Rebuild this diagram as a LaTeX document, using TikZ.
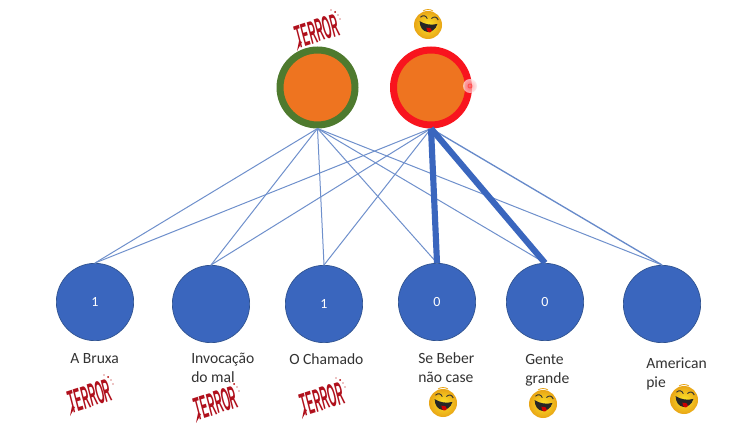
\documentclass[tikz,border=0pt]{standalone}
\usepackage{fontspec}
\setmainfont{Carlito}
\newfontfamily\terrorfont{Liberation Sans}
\definecolor{disc}{HTML}{3A66BE}
\definecolor{discedge}{HTML}{2F528F}
\definecolor{thinline}{HTML}{6F90CC}
\definecolor{topfill}{HTML}{EE7420}
\definecolor{topgreen}{HTML}{4E7A2E}
\definecolor{topred}{HTML}{F8141E}
\definecolor{blood}{HTML}{B0101C}
\definecolor{smiley}{HTML}{FBD93A}
\definecolor{smileyedge}{HTML}{E9A516}
\tikzset{
  x=0.75pt,y=-0.75pt,
  topcircle/.style={circle,fill=topfill,line width=5.25pt,outer sep=2.625pt,minimum size=56.25pt,inner sep=0pt},
  bottomcircle/.style={circle,fill=disc,draw=discedge,line width=0.5pt,minimum size=58pt,inner sep=0pt,text=white,font=\fontsize{10.5}{12}\selectfont},
  thinlink/.style={thinline,line width=0.75pt},
  midlink/.style={thinline!85!disc,line width=1pt},
  thicklink/.style={disc,line width=4.6pt},
  caption/.style={anchor=north west,align=left,inner sep=0pt,text=black!80,font=\fontsize{11.7}{14.4}\selectfont},
  terrorlogo/.style={rotate=18,inner sep=0pt,text=blood,font=\terrorfont\bfseries\itshape\fontsize{11}{11}\selectfont},
  pics/laugh/.style={code={
    \shade[inner color=smiley!70!yellow,outer color=smileyedge] (0,0) circle[radius=14];
    \begin{scope}[rotate=-12]
      \fill[black!85] (-9,-2) .. controls (-3,0) and (3,0) .. (9,-3) .. controls (8,9) and (-6,11) .. (-9,-2) -- cycle;
      \fill[red!80!black] (-1,3) .. controls (3,2) and (5,3) .. (5,5) .. controls (4,8) and (0,8) .. (-1,3) -- cycle;
      \draw[black!80,line width=0.7pt] (-9,-6) .. controls (-7,-9) and (-4,-9) .. (-2,-6);
      \draw[black!80,line width=0.7pt] (2,-7) .. controls (4,-10) and (7,-10) .. (9,-7);
    \end{scope}
    \draw[smileyedge,line width=0.6pt] (-5,-14) .. controls (-2,-16) and (2,-16) .. (5,-14);
  }},
  pics/splatter/.style={code={
    \fill[red!70!black] (18,-19) circle[radius=1] (21,-16) circle[radius=0.7] (14,-21) circle[radius=0.6] (23,-12) circle[radius=0.6];
    \fill[blood] (-18,10) -- (-20,20) -- (-15,11) -- cycle;
  }}
}
\newcommand{\terrorword}{\scalebox{0.7}[2.2]{TERROR}}
\begin{document}
\begin{tikzpicture}
\useasboundingbox[fill=white] (0,0) rectangle (755,423);
\node[topcircle,draw=topgreen] (horror) at (317.5,87.5) {};
\node[topcircle,draw=topred] (comedy) at (431,87.5) {};
\node[bottomcircle] (m1) at (95,302) {1};
\node[bottomcircle] (m2) at (211,304) {};
\node[bottomcircle] (m3) at (324,304) {1};
\node[bottomcircle] (m4) at (437,302) {0};
\node[bottomcircle] (m5) at (545,302) {0};
\node[bottomcircle] (m6) at (662,304) {};
\foreach \m in {m1,m2,m3,m4,m5,m6} \draw[thinlink] (horror.south) -- (\m.north);
\foreach \m in {m1,m2,m3} \draw[thinlink] (comedy.south) -- (\m.north);
\draw[midlink] (comedy.south) -- (m6.north);
\draw[thicklink] (comedy.south) -- (m4.north);
\draw[thicklink] (comedy.south) -- (m5.north);
\node[caption] (c1) at (70,353) {A Bruxa};
\node[caption] (c2) at (191,353) {Invocação\\do mal};
\node[caption] (c3) at (289,353) {O Chamado};
\node[caption] (c4) at (418,352) {Se Beber\\não case};
\node[caption] (c5) at (525,354) {Gente\\grande};
\node[caption] (c6) at (646,357) {American\\pie};
\node[terrorlogo] (t0) at (317,31) {\terrorword};
\node[terrorlogo] (t1) at (90,396) {\terrorword};
\node[terrorlogo] (t2) at (216,403) {\terrorword};
\node[terrorlogo] (t3) at (322,399) {\terrorword};
\pic at (317,31) {splatter};
\pic at (90,396) {splatter};
\pic at (216,403) {splatter};
\pic at (322,399) {splatter};
\pic at (428,25) {laugh};
\pic at (443,403) {laugh};
\pic at (543,404) {laugh};
\pic at (684,400) {laugh};
\shade[inner color=red!45,outer color=topred!10,opacity=0.7] (470,86) circle[radius=7];
\draw[red!70,line width=0.6pt] (470,86) circle[radius=2];
\end{tikzpicture}
\end{document}
